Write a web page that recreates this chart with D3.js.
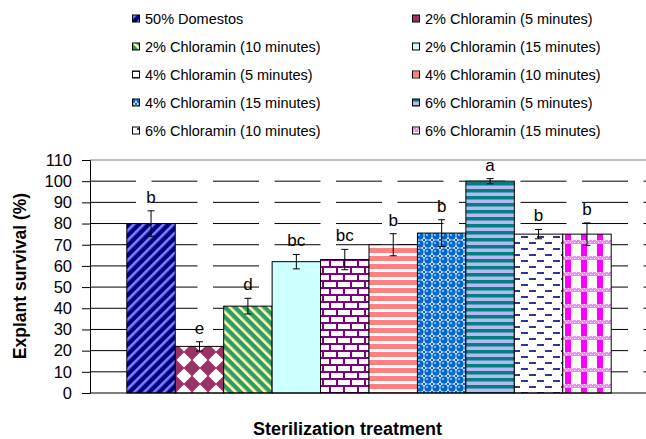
<!DOCTYPE html>
<html><head><meta charset="utf-8">
<script src="https://cdn.jsdelivr.net/npm/d3@7"></script>
<style>body{margin:0;background:#fff}svg{display:block;font-family:"Liberation Sans",Arial,sans-serif}</style>
</head><body><svg id="c" width="646" height="439"></svg>
<script>
const series = ["50% Domestos","2% Chloramin (5 minutes)","2% Chloramin (10 minutes)","2% Chloramin (15 minutes)","4% Chloramin (5 minutes)","4% Chloramin (10 minutes)","4% Chloramin (15 minutes)","6% Chloramin (5 minutes)","6% Chloramin (10 minutes)","6% Chloramin (15 minutes)"];
const values = [80, 22, 41, 62, 63, 70, 75.5, 100, 75, 75];
const errors = [6, 2.2, 3.7, 3.4, 4.8, 5.2, 6.3, 1.2, 2.2, 5.3];
const letters = ["b","e","d","bc","bc","b","b","a","b","b"];
const yTicks = [0,10,20,30,40,50,60,70,80,90,100,110];
const yTitle = "Explant survival (%)";
const xTitle = "Sterilization treatment";

const svg = d3.select("#c");
const defs = svg.append("defs");
function pat(id, w, h, tr){const p=defs.append("pattern").attr("id",id).attr("patternUnits","userSpaceOnUse").attr("width",w).attr("height",h); if(tr)p.attr("patternTransform",tr); return p;}
// 1 Domestos: navy with light-blue "/" stripes
let p=pat("p0",7,7,"rotate(45)"); p.append("rect").attr("width",7).attr("height",7).attr("fill","#000080"); p.append("rect").attr("width",2.6).attr("height",7).attr("fill","#8080ff");
// 2 diamond checker maroon
p=pat("p1",16,16); p.append("rect").attr("width",16).attr("height",16).attr("fill","#993366"); p.append("path").attr("d","M8,0.5L15.5,8L8,15.5L0.5,8Z").attr("fill","#fff");
// 3 green with light yellow "\" stripes
p=pat("p2",7,7,"rotate(-45)"); p.append("rect").attr("width",7).attr("height",7).attr("fill","#339966"); p.append("rect").attr("width",2.6).attr("height",7).attr("fill","#ffffb0");
// 4 light cyan
p=pat("p3",4,4); p.append("rect").attr("width",4).attr("height",4).attr("fill","#ccffff");
// 5 brick purple
p=pat("p4",14,14); p.append("rect").attr("width",14).attr("height",14).attr("fill","#fff");
[[0,0,14,2],[0,7,14,2],[0,0,2,7],[7,7,2,7]].forEach(r=>p.append("rect").attr("x",r[0]).attr("y",r[1]).attr("width",r[2]).attr("height",r[3]).attr("fill","#800080"));
// 6 salmon horizontal stripes
p=pat("p5",8,8); p.append("rect").attr("width",8).attr("height",8).attr("fill","#fff"); p.append("rect").attr("width",8).attr("height",5).attr("fill","#ff8080");
// 7 spheres blue
p=pat("p6",8,8); p.append("rect").attr("width",8).attr("height",8).attr("fill","#fff"); p.append("circle").attr("cx",4).attr("cy",4).attr("r",3.7).attr("fill","#0066cc"); p.append("circle").attr("cx",3).attr("cy",3).attr("r",1.1).attr("fill","#9cc8f0");
[[0,0],[8,0],[0,8],[8,8]].forEach(c=>p.append("circle").attr("cx",c[0]).attr("cy",c[1]).attr("r",1.3).attr("fill","#0066cc"));
// 8 teal/lavender horizontal stripes
p=pat("p7",7,7); p.append("rect").attr("width",7).attr("height",7).attr("fill","#b8b8f4"); p.append("rect").attr("width",7).attr("height",3.5).attr("fill","#008080");
// 9 dashes navy
p=pat("p8",16,12); p.append("rect").attr("width",16).attr("height",12).attr("fill","#fff"); p.append("rect").attr("x",1).attr("y",2).attr("width",7).attr("height",2).attr("fill","#333399"); p.append("rect").attr("x",9).attr("y",8).attr("width",7).attr("height",2).attr("fill","#333399");
// 10 plaid magenta
p=pat("p9",16,16); p.append("rect").attr("width",16).attr("height",16).attr("fill","#fff"); p.append("rect").attr("x",5).attr("width",6).attr("height",16).attr("fill","#ff00ff"); p.append("rect").attr("y",0).attr("width",16).attr("height",4).attr("fill","#ff80ff");
for(let i=0;i<16;i+=2){p.append("rect").attr("x",i).attr("y",(i%4===0)?0:2).attr("width",1).attr("height",1).attr("fill","#fff");}

const x = d3.scaleBand().domain(series).range([90,648]).paddingInner(0).paddingOuter(0.76);
const y = d3.scaleLinear().domain([0,110]).range([393,160]);

// gridlines
svg.append("g").selectAll("line").data(yTicks.filter(t=>t>0 && t<110)).join("line")
 .attr("x1",90).attr("x2",646).attr("y1",d=>y(d)).attr("y2",d=>y(d))
 .attr("stroke","#000").attr("stroke-width",1).attr("stroke-dasharray","46,15.5");
// top border
svg.append("line").attr("x1",90).attr("x2",646).attr("y1",y(110)).attr("y2",y(110)).attr("stroke","#808080");

// bars
svg.append("g").selectAll("rect").data(series).join("rect")
 .attr("x",d=>x(d)).attr("width",x.bandwidth()).attr("y",(d,i)=>y(values[i])).attr("height",(d,i)=>y(0)-y(values[i]))
 .attr("fill",(d,i)=>`url(#p${i})`).attr("stroke","#000").attr("stroke-width",1);

// error bars
const eb = svg.append("g").attr("stroke","#000").attr("stroke-width",1);
series.forEach((s,i)=>{
  const cx = x(s)+x.bandwidth()/2, t=y(values[i]+errors[i]), b=y(values[i]-errors[i]);
  eb.append("line").attr("x1",cx).attr("x2",cx).attr("y1",t).attr("y2",b);
  eb.append("line").attr("x1",cx-3.5).attr("x2",cx+3.5).attr("y1",t).attr("y2",t);
  eb.append("line").attr("x1",cx-3.5).attr("x2",cx+3.5).attr("y1",b).attr("y2",b);
});
// letters
svg.append("g").selectAll("text").data(series).join("text")
 .attr("x",d=>x(d)+x.bandwidth()/2).attr("y",(d,i)=>y(values[i]+errors[i])-8)
 .attr("text-anchor","middle").attr("font-size","17px").attr("fill","#000").text((d,i)=>letters[i]);

// axes
const ya = svg.append("g").attr("transform","translate(90,0)").call(d3.axisLeft(y).tickValues(yTicks).tickSize(8).tickPadding(10));
ya.select(".domain").attr("stroke","#000");
ya.selectAll(".tick line").attr("stroke","#000");
ya.selectAll("text").attr("font-size","16.5px").attr("font-family","Liberation Sans, Arial, sans-serif").attr("fill","#000");
svg.append("line").attr("x1",90).attr("x2",646).attr("y1",y(0)).attr("y2",y(0)).attr("stroke","#000");

svg.append("text").attr("x",347.5).attr("y",435).attr("text-anchor","middle").attr("font-weight","bold").attr("font-size","18px").text(xTitle);
svg.append("text").attr("transform","translate(26,276) rotate(-90)").attr("text-anchor","middle").attr("font-weight","bold").attr("font-size","17.5px").text(yTitle);

// legend
const lg = svg.append("g");
series.forEach((s,i)=>{
  const col=i%2, row=Math.floor(i/2);
  const lx = col===0?132.5:412.5, ly = 18.5+row*28;
  lg.append("rect").attr("x",lx).attr("y",ly-3.5).attr("width",7).attr("height",7).attr("fill",`url(#p${i})`).attr("stroke","#000");
  lg.append("text").attr("x",lx+12.5).attr("y",ly+5.5).attr("font-size","14.5px").text(s);
});
</script></body></html>
